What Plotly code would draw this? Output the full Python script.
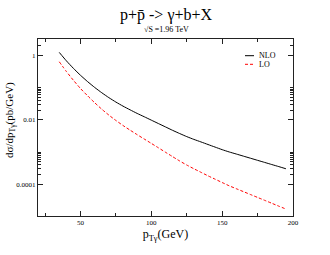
import plotly.graph_objects as go

pt = [35, 40, 45, 50, 55, 60, 65, 70, 75, 80, 85, 90, 95, 100, 105, 110, 115,
      120, 125, 130, 135, 140, 145, 150, 155, 160, 165, 170, 175, 180, 185, 190, 195]

nlo = [1.23, 0.676, 0.394, 0.240, 0.153, 0.101, 0.0692, 0.0488, 0.0355, 0.0266,
       0.0204, 0.0158, 0.01245, 0.00977, 0.00767, 0.00603, 0.00473, 0.00376,
       0.00302, 0.00248, 0.00207, 0.00172, 0.00143, 0.00119, 0.00101, 0.000871,
       0.000750, 0.000646, 0.000556, 0.000479, 0.000412, 0.000355, 0.000305]

lo = [0.631, 0.316, 0.168, 0.0933, 0.0556, 0.0339, 0.0214, 0.01406, 0.00955,
      0.00668, 0.00479, 0.00347, 0.00254, 0.00186, 0.00136, 0.000989, 0.000724,
      0.000531, 0.000398, 0.000305, 0.000237, 0.000184, 0.000145, 0.000114,
      0.0000902, 0.0000733, 0.0000596, 0.0000484, 0.0000394, 0.0000320,
      0.0000260, 0.0000211, 0.0000172]

x_ticks = [50, 100, 150, 200]
x_minor = [25, 75, 125, 175]
y_ticks = [1, 0.01, 0.0001]
y_ticktext = ["1", "0.01", "0.0001"]
y_minor = [2, 3, 0.02, 0.03, 0.04, 0.05, 0.06, 0.07, 0.08, 0.09, 0.1,
           0.0002, 0.0003, 0.0004, 0.0005, 0.0006, 0.0007, 0.0008, 0.0009, 0.001]

FONT = "Liberation Serif, Times New Roman, serif"

fig = go.Figure()
fig.add_trace(go.Scatter(x=pt, y=nlo, mode="lines", name="NLO",
                         line=dict(color="black", width=1, shape="spline", smoothing=0.5)))
fig.add_trace(go.Scatter(x=pt, y=lo, mode="lines", name="LO",
                         line=dict(color="red", width=1, dash="3px,2px",
                                   shape="spline", smoothing=0.5)))

axis_common = dict(showline=True, linecolor="#222", linewidth=1, ticks="inside",
                   mirror="allticks", ticklen=5, tickcolor="#222", showgrid=False,
                   zeroline=False, automargin=False,
                   tickfont=dict(family=FONT, size=7, color="black"))

fig.update_layout(
    width=330, height=255,
    margin=dict(l=38, r=37, t=39, b=39, autoexpand=False),
    paper_bgcolor="white", plot_bgcolor="white",
    showlegend=False,
    font=dict(family=FONT, color="black"),
    xaxis=dict(range=[20, 200], tickmode="array", tickvals=x_ticks,
               minor=dict(tickmode="array", tickvals=x_minor, ticks="inside",
                          ticklen=3, tickcolor="#222"),
               title=dict(text="p<sub>Tγ</sub>(GeV)", font=dict(family=FONT, size=12),
                          standoff=2),
               **axis_common),
    yaxis=dict(type="log", range=[-4.98, 0.505], tickmode="array", tickvals=y_ticks,
               ticktext=y_ticktext,
               minor=dict(tickmode="array", tickvals=y_minor, ticks="inside",
                          ticklen=3, tickcolor="#222"),
               **axis_common),
)

W, H = 330, 255
L, R, T, B = 38, 37, 39, 39
pw, ph = W - L - R, H - T - B


def px(x):
    return (x - L) / pw


def py(y):
    return (H - B - y) / ph


# title & subtitle
fig.add_annotation(text="p+p\u0304 -> γ+b+X", x=px(165.5), y=py(15), xref="paper",
                   yref="paper", yanchor="middle", showarrow=False,
                   font=dict(family=FONT, size=16))
fig.add_annotation(text="√S =1.96 TeV", x=px(166), y=py(29), xref="paper",
                   yref="paper", yanchor="middle", showarrow=False,
                   font=dict(family=FONT, size=8))
# y-axis title
fig.add_annotation(text="dσ/dp<sub>Tγ</sub>(pb/GeV)", x=px(10), y=py(120),
                   xref="paper", yref="paper", xanchor="center", yanchor="middle",
                   textangle=-90, showarrow=False, font=dict(family=FONT, size=11))

# manual legend
leg = [("NLO", "black", "solid", 55.7), ("LO", "red", "3px,2px", 64.3)]
for name, col, dash, yy in leg:
    fig.add_shape(type="line", xref="paper", yref="paper", x0=px(245), x1=px(254),
                  y0=py(yy), y1=py(yy), line=dict(color=col, width=1, dash=dash))
    fig.add_annotation(text=name, xref="paper", yref="paper", x=px(258), y=py(yy),
                       yanchor="middle", xanchor="left", showarrow=False,
                       font=dict(family=FONT, size=8), borderpad=0)

fig.write_html("out.html", config={"displayModeBar": False},
               post_script="document.body.style.margin='0';document.body.style.padding='0';")
